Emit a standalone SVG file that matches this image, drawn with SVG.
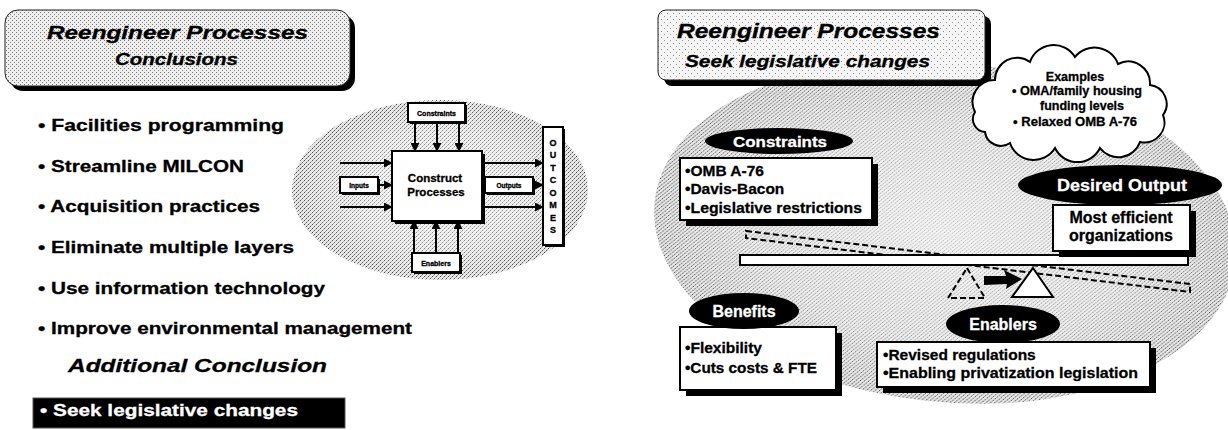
<svg xmlns="http://www.w3.org/2000/svg" width="1228" height="430" viewBox="0 0 1228 430">
<defs>
<style>
.t{font-family:"Liberation Sans",Arial,sans-serif;font-weight:bold;fill:#000;stroke:#000;stroke-width:0.3}
.it{font-style:italic}
.w{fill:#fff;stroke:#fff}
.box{fill:#fff;stroke:#000;stroke-width:2}
.sh{fill:#000}
.conn{stroke:#000;stroke-width:2;fill:none}
.dash{stroke:#000;stroke-width:2;fill:none;stroke-dasharray:6 3}
.oval{fill:#000}
</style>
<pattern id="lt" width="6" height="6" patternUnits="userSpaceOnUse"><rect width="6" height="6" fill="#f5f5f5"/><rect x="1" y="1" width="1" height="1" fill="#888"/><rect x="4" y="4" width="1" height="1" fill="#999"/></pattern>
<pattern id="lt2" width="4" height="4" patternUnits="userSpaceOnUse"><rect width="4" height="4" fill="#eeeeee"/><rect x="0" y="0" width="1" height="1" fill="#777"/><rect x="2" y="2" width="1" height="1" fill="#888"/></pattern>
<pattern id="st" width="4" height="4" patternUnits="userSpaceOnUse"><rect width="4" height="4" fill="#e6e6e6"/><rect x="0" y="0" width="1" height="1" fill="#444"/><rect x="2" y="2" width="1" height="1" fill="#555"/><rect x="1" y="3" width="1" height="1" fill="#999"/><rect x="3" y="1" width="1" height="1" fill="#aaa"/></pattern>
<radialGradient id="fade"><stop offset="0" stop-color="#fff" stop-opacity="0.6"/><stop offset="0.65" stop-color="#fff" stop-opacity="0.35"/><stop offset="1" stop-color="#fff" stop-opacity="0"/></radialGradient>
<marker id="ah" viewBox="0 0 10 10" refX="9" refY="5" markerWidth="9" markerHeight="9" markerUnits="userSpaceOnUse" orient="auto"><path d="M0,0L10,5L0,10z" fill="#000"/></marker>
</defs>
<rect width="1228" height="430" fill="#fff"/>

<g id="left-title">
<rect x="10" y="15" width="345" height="76" rx="13" class="sh"/>
<rect x="5" y="10" width="345" height="76" rx="13" fill="url(#lt2)" stroke="#222" stroke-width="1"/>
<text x="47" y="39" class="t it" font-size="19" textLength="261" lengthAdjust="spacingAndGlyphs">Reengineer Processes</text>
<text x="115" y="65" class="t it" font-size="16" textLength="123" lengthAdjust="spacingAndGlyphs">Conclusions</text>
</g>

<g id="left-bullets">
<text x="38" y="131" class="t" font-size="17" textLength="246" lengthAdjust="spacingAndGlyphs">• Facilities programming</text>
<text x="38" y="172" class="t" font-size="17" textLength="206" lengthAdjust="spacingAndGlyphs">• Streamline MILCON</text>
<text x="38" y="212" class="t" font-size="17" textLength="222" lengthAdjust="spacingAndGlyphs">• Acquisition practices</text>
<text x="38" y="253" class="t" font-size="17" textLength="256" lengthAdjust="spacingAndGlyphs">• Eliminate multiple layers</text>
<text x="38" y="294" class="t" font-size="17" textLength="287" lengthAdjust="spacingAndGlyphs">• Use information technology</text>
<text x="38" y="334" class="t" font-size="17" textLength="374" lengthAdjust="spacingAndGlyphs">• Improve environmental management</text>
<text x="68" y="372" class="t it" font-size="19" textLength="259" lengthAdjust="spacingAndGlyphs">Additional Conclusion</text>
</g>

<g id="seek-bar">
<rect x="33" y="398" width="312" height="30" fill="#000" stroke="#555" stroke-width="1"/>
<text x="40" y="416" class="t w" font-size="17" textLength="258" lengthAdjust="spacingAndGlyphs">• Seek legislative changes</text>
</g>

<g id="left-ellipse">
<ellipse cx="440" cy="190" rx="148" ry="90" fill="url(#st)"/>
<ellipse cx="440" cy="190" rx="148" ry="90" fill="url(#fade)"/>
</g>

<g id="mini-constraints">
<rect x="410" y="105" width="57" height="19" class="sh"/>
<rect x="408" y="103" width="57" height="19" class="box"/>
<text x="436.5" y="116" class="t" font-size="7" text-anchor="middle">Constraints</text>
</g>
<g id="mini-construct">
<rect x="395" y="154" width="90" height="70" class="sh"/>
<rect x="392" y="151" width="90" height="70" class="box"/>
<text x="435" y="182" class="t" font-size="11.5" text-anchor="middle">Construct</text>
<text x="436" y="196" class="t" font-size="11.5" text-anchor="middle">Processes</text>
</g>
<g id="mini-inputs">
<rect x="342" y="179" width="38" height="16" class="sh"/>
<rect x="340" y="177" width="38" height="16" class="box"/>
<text x="359" y="188" class="t" font-size="6.5" text-anchor="middle">Inputs</text>
</g>
<g id="mini-outputs">
<rect x="487" y="179" width="48" height="16" class="sh"/>
<rect x="485" y="177" width="48" height="16" class="box"/>
<text x="509" y="188" class="t" font-size="6.5" text-anchor="middle">Outputs</text>
</g>
<g id="mini-outcomes">
<rect x="545" y="129" width="20" height="118" class="sh"/>
<rect x="543" y="127" width="20" height="118" class="box"/>
<g class="t" font-size="9" text-anchor="middle">
<text x="553" y="146">O</text><text x="553" y="158">U</text><text x="553" y="171">T</text><text x="553" y="183">C</text><text x="553" y="196">O</text><text x="553" y="208">M</text><text x="553" y="221">E</text><text x="553" y="233">S</text>
</g>
</g>
<g id="mini-enablers">
<rect x="414" y="255" width="48" height="19" class="sh"/>
<rect x="412" y="253" width="48" height="19" class="box"/>
<text x="436" y="266" class="t" font-size="7" text-anchor="middle">Enablers</text>
</g>

<g id="connectors">
<line x1="415" y1="123" x2="415" y2="151" class="conn" marker-end="url(#ah)"/>
<line x1="437" y1="123" x2="437" y2="151" class="conn" marker-end="url(#ah)"/>
<line x1="459" y1="123" x2="459" y2="151" class="conn" marker-end="url(#ah)"/>
<line x1="340" y1="163" x2="392" y2="163" class="conn" marker-end="url(#ah)"/>
<line x1="379" y1="185" x2="392" y2="185" class="conn" marker-end="url(#ah)"/>
<line x1="340" y1="207" x2="392" y2="207" class="conn" marker-end="url(#ah)"/>
<line x1="483" y1="163" x2="543" y2="163" class="conn" marker-end="url(#ah)"/>
<line x1="533" y1="185" x2="543" y2="185" class="conn" marker-end="url(#ah)"/>
<line x1="483" y1="207" x2="543" y2="207" class="conn" marker-end="url(#ah)"/>
<line x1="414" y1="253" x2="414" y2="221" class="conn" marker-end="url(#ah)"/>
<line x1="436" y1="253" x2="436" y2="221" class="conn" marker-end="url(#ah)"/>
<line x1="458" y1="253" x2="458" y2="221" class="conn" marker-end="url(#ah)"/>
</g>

<g id="right-ellipse">
<ellipse cx="945" cy="232" rx="292" ry="170" transform="rotate(6 945 232)" fill="url(#st)"/>
<ellipse cx="945" cy="232" rx="292" ry="170" transform="rotate(6 945 232)" fill="url(#fade)"/>
</g>

<g id="right-title">
<rect x="664" y="16" width="327" height="70" rx="8" class="sh"/>
<rect x="658" y="10" width="327" height="70" rx="8" fill="url(#lt)" stroke="#222" stroke-width="1"/>
<text x="677" y="38" class="t it" font-size="20" textLength="263" lengthAdjust="spacingAndGlyphs">Reengineer Processes</text>
<text x="685" y="67" class="t it" font-size="17" textLength="245" lengthAdjust="spacingAndGlyphs">Seek legislative changes</text>
</g>

<g id="cloud">
<path d="M975,112 A22,22 0 0 1 995,80 A22,22 0 0 1 1030,62 A25,25 0 0 1 1075,57 A25,25 0 0 1 1118,64 A22,22 0 0 1 1150,85 A19,19 0 0 1 1163,115 A20,20 0 0 1 1140,142 A23,23 0 0 1 1100,148 A25,25 0 0 1 1055,148 A25,25 0 0 1 1010,143 A16,16 0 0 1 985,132 A13,13 0 0 1 975,112 Z" fill="#fff" stroke="#000" stroke-width="2"/>
<text x="1075" y="81" class="t" font-size="12.5" text-anchor="middle">Examples</text>
<text x="1012" y="95" class="t" font-size="12.5" textLength="130" lengthAdjust="spacingAndGlyphs">• OMA/family housing</text>
<text x="1040" y="110" class="t" font-size="12.5">funding levels</text>
<text x="1013" y="126" class="t" font-size="12.5" textLength="124" lengthAdjust="spacingAndGlyphs">• Relaxed OMB A-76</text>
</g>

<g id="lever">
<polygon points="746,231 1190,284 1190,292 746,238" class="dash"/>
<rect x="740" y="255" width="448" height="10" fill="#fff" stroke="#000" stroke-width="2"/>
<polygon points="967,268 985,298 948,298" class="dash"/>
<polygon points="1033,268 1053,297 1012,297" fill="#fff" stroke="#000" stroke-width="2"/>
<polygon points="984,276 1006,276 1004,270 1022,279 1006,289 1007,284 984,285" fill="#000"/>
</g>

<g id="constraints">
<rect x="686" y="164" width="192" height="62" class="sh"/>
<rect x="680" y="158" width="192" height="62" class="box"/>
<ellipse cx="779" cy="141" rx="74" ry="13" class="oval"/>
<text x="733" y="147" class="t w" font-size="14" textLength="94" lengthAdjust="spacingAndGlyphs">Constraints</text>
<text x="685" y="176" class="t" font-size="15.5">•OMB A-76</text>
<text x="685" y="194" class="t" font-size="15.5">•Davis-Bacon</text>
<text x="685" y="213" class="t" font-size="15.5" textLength="177" lengthAdjust="spacingAndGlyphs">•Legislative restrictions</text>
</g>

<g id="desired-output">
<rect x="1059" y="211" width="137" height="46" class="sh"/>
<rect x="1053" y="205" width="137" height="46" class="box"/>
<ellipse cx="1120" cy="185" rx="102" ry="20" class="oval"/>
<text x="1057" y="191" class="t w" font-size="17" textLength="130" lengthAdjust="spacingAndGlyphs">Desired Output</text>
<text x="1121" y="223" class="t" font-size="16" text-anchor="middle">Most efficient</text>
<text x="1121" y="241" class="t" font-size="16" text-anchor="middle">organizations</text>
</g>

<g id="benefits">
<rect x="686" y="333" width="156" height="63" class="sh"/>
<rect x="680" y="327" width="156" height="63" class="box"/>
<ellipse cx="744" cy="311" rx="55" ry="18" class="oval"/>
<text x="744" y="317" class="t w" font-size="16" text-anchor="middle">Benefits</text>
<text x="685" y="353" class="t" font-size="15.5">•Flexibility</text>
<text x="685" y="373" class="t" font-size="15.5" textLength="132" lengthAdjust="spacingAndGlyphs">•Cuts costs &amp; FTE</text>
</g>

<g id="enablers">
<rect x="883" y="348" width="273" height="45" class="sh"/>
<rect x="877" y="342" width="273" height="45" class="box"/>
<ellipse cx="1003" cy="324" rx="57" ry="19" class="oval"/>
<text x="1003" y="330" class="t w" font-size="16" text-anchor="middle">Enablers</text>
<text x="883" y="360" class="t" font-size="15.5">•Revised regulations</text>
<text x="883" y="378" class="t" font-size="15.5" textLength="255" lengthAdjust="spacingAndGlyphs">•Enabling privatization legislation</text>
</g>
</svg>
